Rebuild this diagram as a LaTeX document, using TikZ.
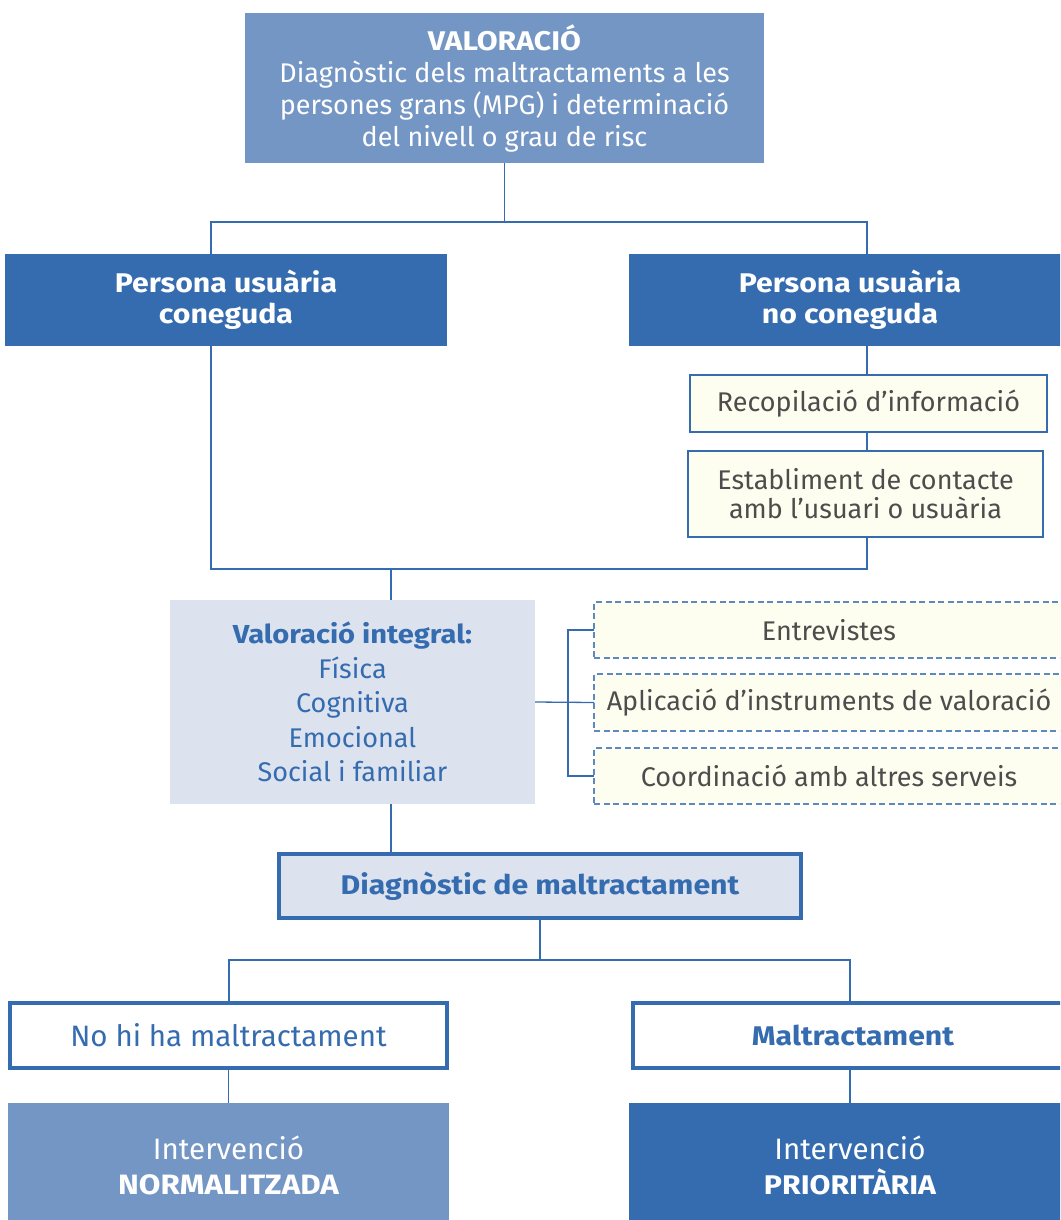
\documentclass[tikz,border=0pt]{standalone}
\usepackage{fontspec}
\setmainfont{Fira Sans}[BoldFeatures={FakeStretch=1.12}]
\usetikzlibrary{positioning}

\definecolor{midblue}{HTML}{7496C4}
\definecolor{darkblue}{HTML}{356CAF}
\definecolor{paleblue}{HTML}{DCE2EE}
\definecolor{ivory}{HTML}{FEFEF0}
\definecolor{textgray}{HTML}{4D4D4D}

\tikzset{
  box/.style={rectangle, inner sep=0pt, outer sep=0pt, align=center,
    anchor=north west, font=\fontsize{27}{32}\selectfont},
  softbox/.style={box, fill=midblue, text=white},
  strongbox/.style={box, fill=darkblue, text=white,
    font=\fontsize{27}{31}\selectfont\bfseries},
  notebox/.style={box, fill=ivory, draw=darkblue, line width=1.2pt, text=textgray},
  dashbox/.style={notebox, draw=darkblue!80, dash pattern=on 6pt off 3.5pt},
  palebox/.style={box, fill=paleblue, text=darkblue},
  framebox/.style={box, draw=darkblue, line width=4.5pt, text=darkblue},
  link/.style={draw=darkblue, line width=1.3pt},
}

\begin{document}
\begin{tikzpicture}[x=1pt, y=-1pt]
    \useasboundingbox (0,0) rectangle (1060,1220);
    \clip (0,0) rectangle (1060,1220);

    % First, locate each of the nodes and name them
    \node [softbox, minimum width=519, minimum height=150] (valoracio) at (245,13)
      {\textbf{VALORACIÓ}\\Diagnòstic dels maltractaments a les\\persones grans (MPG) i determinació\\del nivell o grau de risc};
    \node [strongbox, minimum width=442, minimum height=92] (conegut) at (5,254)
      {Persona usuària\\coneguda};
    \node [strongbox, minimum width=442, minimum height=92] (noconegut) at (629,254)
      {Persona usuària\\no coneguda};
    \node [notebox, minimum width=357, minimum height=57] (recopilacio) at (690,375)
      {Recopilació d’informació};
    \node [notebox, minimum width=355, minimum height=86,
      font=\fontsize{27}{29}\selectfont] (establiment) at (688,451)
      {Establiment de contacte\\amb l’usuari o usuària};
    \node [palebox, minimum width=365, minimum height=204,
      font=\fontsize{27}{34.5}\selectfont] (integral) at (170,600)
      {{\fontsize{26}{34.5}\selectfont\bfseries Valoració integral:}\\Física\\Cognitiva\\Emocional\\Social i familiar};
    \node [dashbox, minimum width=470, minimum height=56] (entrevistes) at (594,602)
      {Entrevistes};
    \node [dashbox, minimum width=470, minimum height=57] (aplicacio) at (594,674)
      {Aplicació d’instruments de valoració};
    \node [dashbox, minimum width=470, minimum height=56] (coordinacio) at (594,748)
      {Coordinació amb altres serveis};
    \node [framebox, fill=paleblue, minimum width=522, minimum height=64,
      font=\fontsize{27}{32}\selectfont\bfseries] (diagnostic) at (279,854)
      {Diagnòstic de maltractament};
    \node [framebox, fill=white, minimum width=437, minimum height=65,
      font=\fontsize{29.5}{32}\selectfont] (nohiha) at (10,1003)
      {No hi ha maltractament};
    \node [framebox, fill=white, minimum width=440, minimum height=65,
      font=\fontsize{27}{32}\selectfont\bfseries] (maltract) at (633,1003)
      {Maltractament};
    \node [softbox, minimum width=441, minimum height=125,
      font=\fontsize{29.5}{35}\selectfont] (intnorm) at (8,1103)
      {Intervenció\\{\fontsize{28}{35}\selectfont\bfseries NORMALITZADA}};
    \node [strongbox, minimum width=442, minimum height=125,
      font=\fontsize{29.5}{35}\selectfont] (intprio) at (629,1103)
      {Intervenció\\{\fontsize{27}{35}\selectfont\bfseries PRIORITÀRIA}};

    \coordinate (lcol) at (211,0);
    \coordinate (rcol) at (867,0);
    \coordinate (join) at (391,569);
    \coordinate (blcol) at (229,0);
    \coordinate (brcol) at (850,0);

    % Now draw the lines:
    \draw [link] (valoracio.south) -- ++(0,59) coordinate (fork1);
    \draw [link] (conegut.north -| lcol) |- (fork1) -| (noconegut.north -| rcol);
    \draw [link] (noconegut.south -| rcol) -- (recopilacio.north -| rcol);
    \draw [link] (recopilacio.south -| rcol) -- (establiment.north -| rcol);
    \draw [link] (conegut.south -| lcol) |- (join) -| (establiment.south -| rcol);
    \draw [link] (join) -- (integral.north -| join);
    \draw [link] (integral.east) -- (aplicacio.west);
    \draw [link] (entrevistes.west) -- ++(-26,0) |- (coordinacio.west);
    \draw [link] (integral.south -| join) -- (diagnostic.north -| join);
    \draw [link] (diagnostic.south) -- ++(0,42) coordinate (fork2);
    \draw [link] (nohiha.north -| blcol) |- (fork2) -| (maltract.north -| brcol);
    \draw [link] (nohiha.south) -- (intnorm.north);
    \draw [link] (maltract.south -| brcol) -- (intprio.north -| brcol);
\end{tikzpicture}
\end{document}
